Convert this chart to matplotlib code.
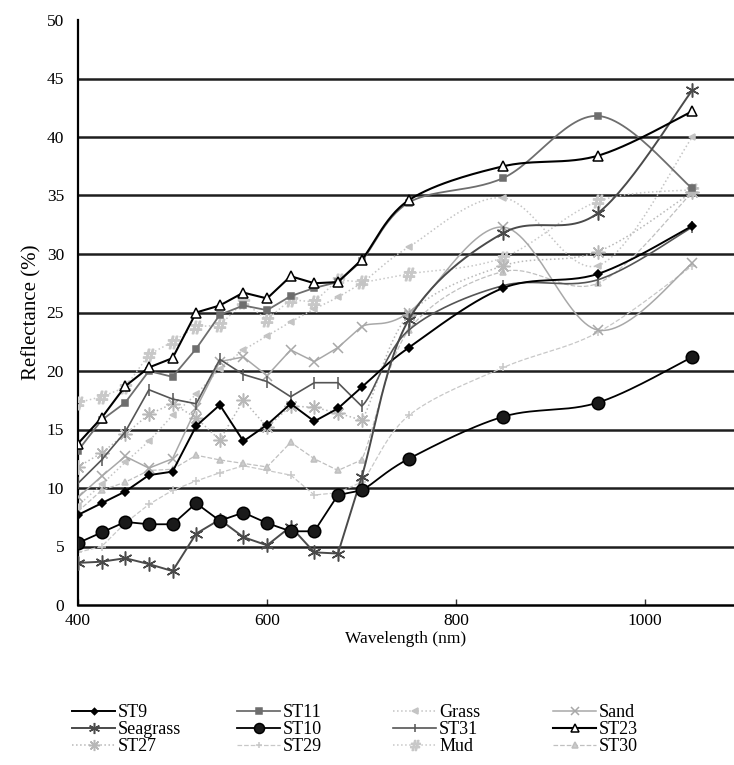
import numpy as np
import matplotlib
matplotlib.use('Agg')
import matplotlib.pyplot as plt
from matplotlib.lines import Line2D

plt.rcParams['font.family'] = ['Liberation Serif', 'DejaVu Serif']

# Wavelengths (nm) of the sampled bands.
wl = [400, 425, 450, 475, 500, 525, 550, 575, 600, 625, 650, 675, 700, 750, 850, 950, 1050]

# Reflectance (%).
st9 = [7.7, 8.7, 9.7, 11.1, 11.4, 15.3, 17.1, 14.0, 15.4, 17.2, 15.7, 16.8, 18.6, 22.0, 27.1, 28.3, 32.4]
st11 = [13.2, 15.8, 17.3, 20.0, 19.5, 21.9, 24.8, 25.6, 25.2, 26.4, 27.1, 27.6, 29.4, 34.4, 36.5, 41.8, 35.6]
grass = [8.5, 10.3, 12.2, 14.0, 16.2, 18.0, 20.2, 21.8, 23.0, 24.2, 25.3, 26.3, 27.5, 30.6, 34.8, 29.0, 40.0]
sand = [9.2, 11.0, 12.7, 11.7, 12.5, 16.8, 20.8, 21.2, 19.6, 21.8, 20.8, 22.0, 23.8, 25.0, 32.3, 23.5, 29.2]
seagrass = [3.6, 3.7, 4.0, 3.5, 2.9, 6.1, 7.3, 5.8, 5.1, 6.7, 4.5, 4.4, 10.9, 24.4, 31.8, 33.5, 44.0]
st10 = [5.3, 6.2, 7.1, 6.9, 6.9, 8.7, 7.2, 7.9, 7.0, 6.3, 6.3, 9.4, 9.8, 12.5, 16.1, 17.3, 21.2]
st31 = [10.4, 12.4, 14.8, 18.4, 17.6, 17.2, 21.0, 19.7, 19.1, 17.8, 19.0, 19.0, 17.0, 23.5, 27.3, 27.8, 32.3]
st23 = [13.8, 16.0, 18.7, 20.3, 21.1, 25.0, 25.6, 26.7, 26.2, 28.1, 27.5, 27.6, 29.5, 34.6, 37.5, 38.4, 42.2]
st27 = [11.8, 13.0, 14.6, 16.3, 17.2, 16.0, 14.1, 17.5, 15.2, 17.0, 16.9, 16.4, 15.8, 24.8, 29.0, 30.2, 35.3]
st29 = [4.5, 5.0, 7.0, 8.6, 9.8, 10.6, 11.3, 11.9, 11.5, 11.1, 9.4, 9.6, 10.5, 16.2, 20.3, 23.3, 29.0]
mud = [17.3, 17.8, 18.6, 21.4, 22.5, 23.8, 23.9, 25.9, 24.4, 26.1, 25.9, 27.8, 27.6, 28.3, 29.7, 34.5, 35.5]
st30 = [8.0, 9.8, 10.5, 11.5, 11.6, 12.8, 12.4, 12.1, 11.8, 13.9, 12.5, 11.5, 12.4, 23.5, 28.5, 27.5, 35.3]

AST6 = (6, 2, 0)
AST8 = (8, 2, 0)

# name: data, line colour, linestyle, linewidth, marker, marker size, marker face
series = {
    'ST9':      (st9,      '#000000', '-',  1.4, 'D',  4, '#000000'),
    'ST11':     (st11,     '#6e6e6e', '-',  1.3, 's',  5, '#6e6e6e'),
    'Grass':    (grass,    '#c4c4c4', ':',  1.1, '<',  5, '#c4c4c4'),
    'Sand':     (sand,     '#a8a8a8', '-',  1.1, 'x',  7, '#a8a8a8'),
    'Seagrass': (seagrass, '#4a4a4a', '-',  1.4, AST6, 10, '#4a4a4a'),
    'ST10':     (st10,     '#000000', '-',  1.3, 'o',  9, '#1a1a1a'),
    'ST31':     (st31,     '#555555', '-',  1.2, '|',  8, '#555555'),
    'ST23':     (st23,     '#000000', '-',  1.5, '^',  7, 'white'),
    'ST27':     (st27,     '#b8b8b8', ':',  1.1, AST8, 10, '#b8b8b8'),
    'ST29':     (st29,     '#c8c8c8', '--', 0.9, '+',  6, '#c8c8c8'),
    'Mud':      (mud,      '#c8c8c8', ':',  1.1, '$\\#$', 9, '#c8c8c8'),
    'ST30':     (st30,     '#c0c0c0', '--', 0.9, '^',  5, '#cccccc'),
}
draw_order = ['ST29', 'ST30', 'Mud', 'ST27', 'Grass', 'Sand', 'ST31', 'ST9',
              'ST11', 'Seagrass', 'ST10', 'ST23']


def smooth(xs, ys, start=700, n=30):
    # straight segments in the dense visible range, Excel-style Bezier
    # smoothing (Catmull-Rom handles) from `start` onwards
    P = np.column_stack([xs, ys]).astype(float)
    Q = np.vstack([P[0], P, P[-1]])
    t = np.linspace(0, 1, n)[:, None]
    pts = [P[:1]]
    for i in range(len(P) - 1):
        p0, p1, p2, p3 = Q[i], Q[i + 1], Q[i + 2], Q[i + 3]
        if p1[0] < start:
            pts.append(p2[None, :])
            continue
        c1 = p1 + (p2 - p0) / 6
        c2 = p2 - (p3 - p1) / 6
        seg = (1 - t)**3 * p1 + 3 * (1 - t)**2 * t * c1 + 3 * (1 - t) * t**2 * c2 + t**3 * p2
        pts.append(seg[1:])
    S = np.vstack(pts)
    return S[:, 0], S[:, 1]


fig = plt.figure(figsize=(7.34, 7.65), dpi=100)
ax = fig.add_axes([78 / 734, 1 - 605 / 765, 656 / 734, 585 / 765])

for k in range(5, 50, 5):
    ax.axhline(k, color='#1e1e1e', lw=1.8, zorder=1)

handles = {}
for z, name in enumerate(draw_order):
    d, c, ls, lw, mk, ms, mf = series[name]
    sx, sy = smooth(wl, d)
    ax.plot(sx, sy, color=c, ls=ls, lw=lw, zorder=2 + z)
    ax.plot(wl, d, ls='none', marker=mk, ms=ms, mfc=mf, mec=c, mew=1.1, zorder=2 + z)
    handles[name] = Line2D([], [], color=c, ls=ls, lw=lw, marker=mk, ms=ms, mfc=mf, mec=c, mew=1.1)

ax.set_xlim(400, 1094)
ax.set_ylim(0, 50)
ax.set_xticks([400, 600, 800, 1000])
ax.set_yticks(range(0, 55, 5))
ax.tick_params(direction='in', length=4, width=1, labelsize=12.5, pad=6, color='#333333')
ax.tick_params(axis='y', length=0, pad=10)
ax.spines['top'].set_visible(False)
ax.spines['right'].set_visible(False)
ax.spines['left'].set_linewidth(1.6)
ax.spines['bottom'].set_linewidth(1.8)
ax.set_xlabel('Wavelength (nm)', fontsize=12.5, labelpad=1)
ax.set_ylabel('Reflectance (%)', fontsize=15, labelpad=4)

columns = [['ST9', 'Seagrass', 'ST27'], ['ST11', 'ST10', 'ST29'],
           ['Grass', 'ST31', 'Mud'], ['Sand', 'ST23', 'ST30']]
col_x = [72, 237, 393, 553]
for cx, names in zip(col_x, columns):
    fig.legend([handles[n] for n in names], names, loc='upper left',
               bbox_to_anchor=(cx / 734, 1 - 704 / 765), frameon=False,
               fontsize=13, handlelength=2.4, handletextpad=0.15,
               labelspacing=0.0, borderpad=0, borderaxespad=0, markerscale=0.8)

fig.savefig('out.png', dpi=100, facecolor='white')
